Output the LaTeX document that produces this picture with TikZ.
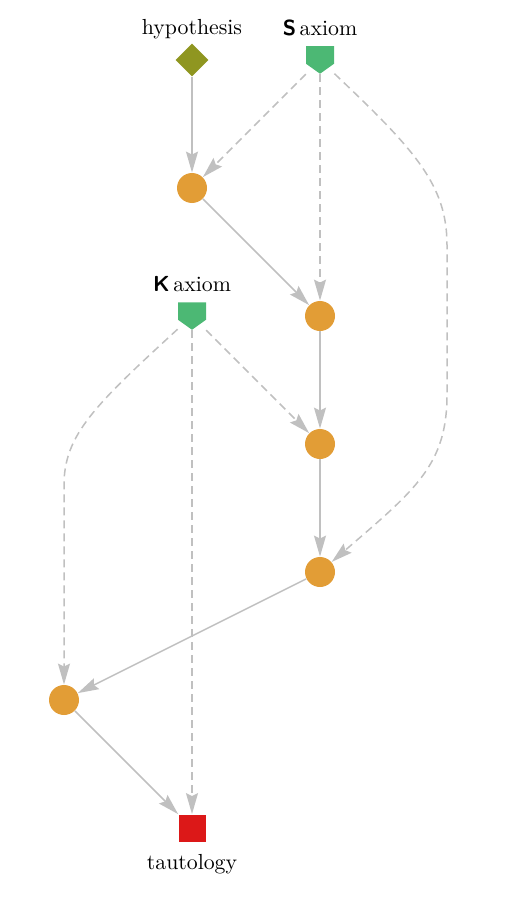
\documentclass[tikz,border=0pt]{standalone}
\usepackage{tikz}
\usetikzlibrary{arrows.meta, positioning, shapes.geometric}

\definecolor{hypcolor}{RGB}{143,150,32}
\definecolor{axcolor}{RGB}{76,184,116}
\definecolor{mpcolor}{RGB}{226,157,54}
\definecolor{goalcolor}{RGB}{220,24,24}
\definecolor{edgegray}{RGB}{192,192,192}

\tikzset{
	hypo/.style={diamond, fill=hypcolor, inner sep=0pt, minimum width=16.5pt, minimum height=16.5pt},
	axiom/.style={rectangle, inner sep=0pt, minimum width=14pt, minimum height=13.75pt,
		path picture={\fill[axcolor] (path picture bounding box.north west)
			-- (path picture bounding box.north east)
			-- ([yshift=5pt]path picture bounding box.south east)
			-- (path picture bounding box.south)
			-- ([yshift=5pt]path picture bounding box.south west) -- cycle;}},
	inference/.style={circle, fill=mpcolor, inner sep=0pt, minimum size=15pt},
	goal/.style={rectangle, fill=goalcolor, inner sep=0pt, minimum size=13.5pt},
	lbl/.style={inner sep=2pt, text height=7.5pt, text depth=2.2pt},
	mp/.style={draw=edgegray, line width=0.75pt, -{Stealth[length=10.5pt, width=6pt, inset=1.5pt]}},
	axline/.style={mp, dash pattern=on 4pt off 2.5pt}
}

\begin{document}
\begin{tikzpicture}[x=0.5pt, y=-0.5pt, node distance=64pt and 64pt, on grid,
		font=\fontsize{10.9}{13}\selectfont]
		\useasboundingbox (0,0) rectangle (508,904);
		
		% Nodes
		\node[hypo, label={[lbl, label distance=0pt]above:hypothesis}] (hyp) at (192,60) {};
		\node[axiom, right=of hyp, label={[lbl, label distance=1pt]above:{\textsf{\bfseries S}\,axiom}}] (sax) {};
		\node[inference, below=of hyp] (n1) {};
		\node[inference, below right=of n1] (n2) {};
		\node[axiom, below=of n1, label={[lbl, label distance=1pt]above:{\textsf{\bfseries K}\,axiom}}] (kax) {};
		\node[inference, below=of n2] (n3) {};
		\node[inference, below=of n3] (n4) {};
		\node[inference, below left=64pt and 128pt of n4] (n5) {};
		\node[goal, below right=of n5, label={[lbl, label distance=4pt]below:tautology}] (taut) {};
		
		% Bends of the long axiom lines
		\coordinate (sbendtop) at (447,245);
		\coordinate (sbendbot) at (447,395);
		\coordinate (kbend) at (64,485);
		
		% Arrows
		\draw[mp] (hyp) -- (n1);
		\draw[axline] (sax) -- (n1);
		\draw[axline] (sax) -- (n2);
		\draw[axline] (sax) .. controls (415,150) and (447,185) .. (sbendtop)
			-- (sbendbot) .. controls (447,465) and (415,490) .. (n4);
		\draw[mp] (n1) -- (n2);
		\draw[mp] (n2) -- (n3);
		\draw[axline] (kax) -- (n3);
		\draw[axline] (kax) -- (taut);
		\draw[axline] (kax) .. controls (95,405) and (64,435) .. (kbend) -- (n5);
		\draw[mp] (n3) -- (n4);
		\draw[mp] (n4) -- (n5);
		\draw[mp] (n5) -- (taut);
		
\end{tikzpicture}
\end{document}
